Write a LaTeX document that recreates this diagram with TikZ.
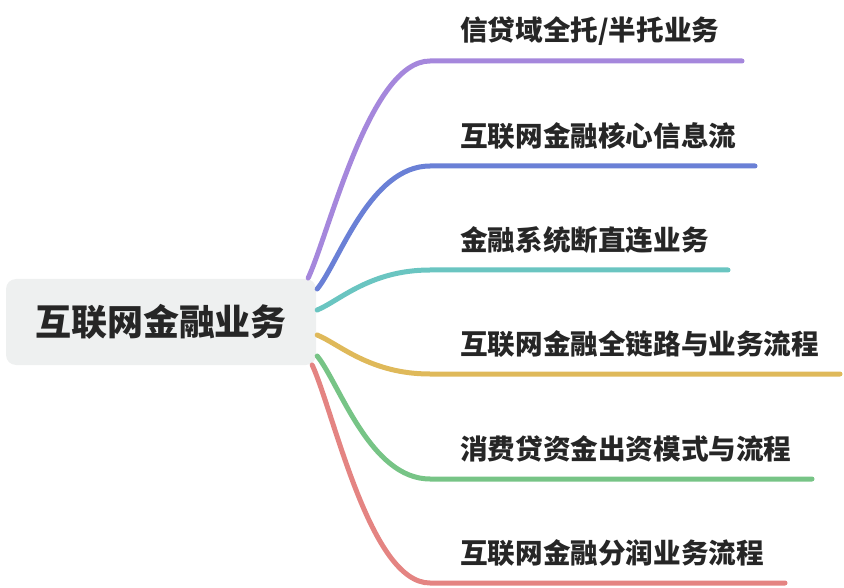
\documentclass[tikz,border=0pt]{standalone}
\usepackage{fontspec}
\newfontfamily\cjk{Noto Sans CJK SC}
\usepackage{xcolor}
\usetikzlibrary{calc,positioning}

\definecolor{rootfill}{HTML}{EEF0F0}
\definecolor{inkdark}{HTML}{262626}
\definecolor{brpurple}{HTML}{A587DC}
\definecolor{brblue}{HTML}{6A80D6}
\definecolor{brteal}{HTML}{6AC5C1}
\definecolor{bryellow}{HTML}{DFB95A}
\definecolor{brgreen}{HTML}{77C486}
\definecolor{brred}{HTML}{E48482}

\begin{document}
\begin{tikzpicture}[x=1pt, y=-1pt,
    rootbox/.style={draw=none, fill=rootfill, rounded corners=10pt, minimum width=310pt,
                    minimum height=86pt, inner sep=0pt, text=inkdark,
                    font=\cjk\bfseries\fontsize{36}{40}\selectfont},
    leaf/.style={anchor=west, inner sep=0pt, text=inkdark,
                 font=\cjk\bfseries\fontsize{27.6}{32}\selectfont},
    branch/.style={line width=5pt, line cap=round, #1}]
  \useasboundingbox (0,0) rectangle (844,588);

  % central topic
  \node[rootbox] (root) at (161,322) {互联网金融业务};

  % knees and ends of the branches
  \coordinate (k1) at (430,61);  \coordinate (e1) at (742,61);
  \coordinate (k2) at (430,166); \coordinate (e2) at (755,166);
  \coordinate (k3) at (430,270); \coordinate (e3) at (728,270);
  \coordinate (k4) at (430,374); \coordinate (e4) at (840,374);
  \coordinate (k5) at (430,479); \coordinate (e5) at (812,479);
  \coordinate (k6) at (430,583); \coordinate (e6) at (785,583);

  % branches
  \draw[branch=brpurple] ([shift={(-8,-44)}]root.east) .. controls +(22,-48) and +(-60,0) .. (k1) -- (e1);
  \draw[branch=brblue]   ([shift={(1,-33)}]root.east)  .. controls +(22,-27) and +(-60,0) .. (k2) -- (e2);
  \draw[branch=brteal]   ([shift={(1,-12)}]root.east)  .. controls +(22,-9) and +(-60,0)  .. (k3) -- (e3);
  \draw[branch=bryellow] ([shift={(1,13)}]root.east)   .. controls +(22,9) and +(-60,0)   .. (k4) -- (e4);
  \draw[branch=brgreen]  ([shift={(1,34)}]root.east)   .. controls +(22,27) and +(-60,0)  .. (k5) -- (e5);
  \draw[branch=brred]    ([shift={(-4,43)}]root.east)  .. controls +(22,48) and +(-60,0)  .. (k6) -- (e6);

  % subtopics
  \node[leaf] (t1) at ($(k1)+(30,-30)$) {信贷域全托/半托业务};
  \node[leaf] (t2) at ($(k2)+(30,-30)$) {互联网金融核心信息流};
  \node[leaf] (t3) at ($(k3)+(30,-30)$) {金融系统断直连业务};
  \node[leaf] (t4) at ($(k4)+(30,-30)$) {互联网金融全链路与业务流程};
  \node[leaf] (t5) at ($(k5)+(30,-30)$) {消费贷资金出资模式与流程};
  \node[leaf] (t6) at ($(k6)+(30,-30)$) {互联网金融分润业务流程};
\end{tikzpicture}
\end{document}
